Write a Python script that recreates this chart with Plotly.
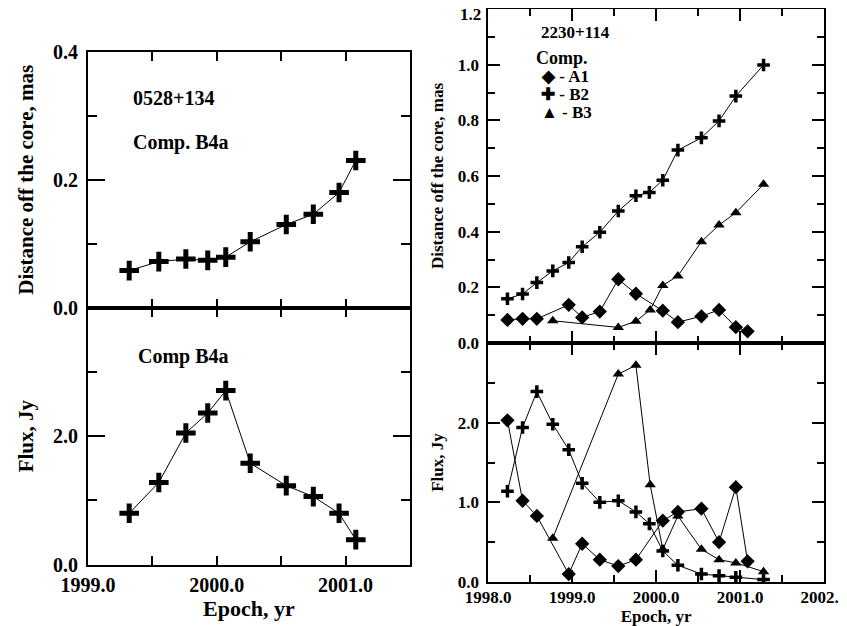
import plotly.graph_objects as go

# ---------------- data ----------------
# 0528+134, component B4a
epoch_0528 = [1999.32, 1999.55, 1999.76, 1999.93, 2000.07, 2000.26, 2000.54, 2000.75, 2000.95, 2001.08]
dist_0528 = [0.058, 0.072, 0.076, 0.074, 0.079, 0.103, 0.130, 0.146, 0.180, 0.230]
flux_0528 = [0.80, 1.28, 2.05, 2.36, 2.71, 1.58, 1.23, 1.06, 0.80, 0.39]

# 2230+114
epoch_A1 = [1998.23, 1998.41, 1998.58, 1998.96, 1999.12, 1999.33, 1999.55, 1999.76, 2000.08, 2000.26, 2000.54, 2000.75, 2000.95, 2001.09]
dist_A1 = [0.083, 0.087, 0.087, 0.137, 0.092, 0.113, 0.229, 0.177, 0.116, 0.075, 0.096, 0.119, 0.057, 0.042]
flux_A1 = [2.03, 1.02, 0.83, 0.10, 0.48, 0.28, 0.20, 0.28, 0.77, 0.88, 0.92, 0.50, 1.19, 0.26]

epoch_B2 = [1998.23, 1998.41, 1998.58, 1998.77, 1998.96, 1999.12, 1999.33, 1999.55, 1999.76, 1999.92, 2000.08, 2000.26, 2000.54, 2000.75, 2000.95, 2001.28]
dist_B2 = [0.159, 0.176, 0.217, 0.259, 0.289, 0.346, 0.398, 0.474, 0.529, 0.541, 0.585, 0.693, 0.737, 0.798, 0.887, 0.999]
flux_B2 = [1.14, 1.94, 2.39, 1.98, 1.66, 1.24, 1.00, 1.02, 0.88, 0.73, 0.39, 0.21, 0.10, 0.08, 0.06, 0.03]

epoch_B3 = [1998.77, 1999.55, 1999.76, 1999.93, 2000.08, 2000.26, 2000.54, 2000.75, 2000.95, 2001.28]
dist_B3 = [0.080, 0.056, 0.078, 0.119, 0.207, 0.241, 0.364, 0.424, 0.468, 0.570]
flux_B3 = [0.55, 2.61, 2.72, 1.22, 0.41, 0.83, 0.41, 0.28, 0.24, 0.13]

left_x_ticks = [1999.0, 2000.0, 2001.0]
left_dist_ticks = [0.0, 0.2, 0.4]
left_flux_ticks = [0.0, 2.0]
right_x_ticks = [1998.0, 1999.0, 2000.0, 2001.0, 2002.0]
right_dist_ticks = [0.0, 0.2, 0.4, 0.6, 0.8, 1.0, 1.2]
right_flux_ticks = [0.0, 1.0, 2.0]

# ---------------- layout geometry (screen pixels) ----------------
OFF = 8                       # page body margin of the html page
W, H = 847 - OFF, 626 - OFF   # figure size
SL, SR, ST, SB = 88, 824.3, 8.3, 582.3
ML, MR, MT, MB = SL - OFF, 847 - SR, ST - OFF, 626 - SB
PW, PH = W - ML - MR, H - MT - MB


def clamp(v):
    return min(1.0, max(0.0, v))


def px_x(p):
    return (p - OFF - ML) / PW


def px_y(p):
    return (H - MB - (p - OFF)) / PH


def xd(p0, p1):
    return [clamp(px_x(p0)), clamp(px_x(p1))]


def yd(top, bot):
    return [clamp(px_y(bot)), clamp(px_y(top))]


FONT = "Liberation Serif"
BLACK = "black"

fig = go.Figure()


def plus(size, lw):
    return dict(symbol="cross-thin", size=size, color=BLACK, line=dict(color=BLACK, width=lw))


line = dict(color=BLACK, width=1)

# left panels
fig.add_trace(go.Scatter(x=epoch_0528, y=dist_0528, mode="lines+markers", line=line,
                         marker=plus(14, 5), xaxis="x", yaxis="y", showlegend=False))
fig.add_trace(go.Scatter(x=epoch_0528, y=flux_0528, mode="lines+markers", line=line,
                         marker=plus(14, 5), xaxis="x2", yaxis="y2", showlegend=False))

# right panels
dia = dict(symbol="diamond", size=11, color=BLACK)
tri = dict(symbol="triangle-up", size=10, color=BLACK)
for (ya, A, B, C) in [("y3", dist_A1, dist_B2, dist_B3), ("y4", flux_A1, flux_B2, flux_B3)]:
    xa = "x3" if ya == "y3" else "x4"
    fig.add_trace(go.Scatter(x=epoch_A1, y=A, mode="lines+markers", line=line, marker=dia,
                             xaxis=xa, yaxis=ya, showlegend=False, name="A1"))
    fig.add_trace(go.Scatter(x=epoch_B2, y=B, mode="lines+markers", line=line, marker=plus(9, 3.5),
                             xaxis=xa, yaxis=ya, showlegend=False, name="B2"))
    fig.add_trace(go.Scatter(x=epoch_B3, y=C, mode="lines+markers", line=line, marker=tri,
                             xaxis=xa, yaxis=ya, showlegend=False, name="B3"))


def ax(domain, rng, tickvals, fmt, ticklen, minor_dtick, minor_len, fsize, showlabels=True,
       title=None, tsize=None, standoff=None, anchor=None, lw=2, lstand=4):
    d = dict(domain=domain, range=rng, tickmode="array", tickvals=tickvals,
             ticktext=[format(v, fmt) for v in tickvals],
             ticks="inside", ticklen=ticklen, tickwidth=lw, tickcolor=BLACK,
             showline=True, linecolor=BLACK, linewidth=lw, mirror="ticks",
             showgrid=False, zeroline=False, showticklabels=showlabels,
             tickfont=dict(family=FONT, size=fsize, color=BLACK, weight="bold"),
             minor=dict(dtick=minor_dtick, tick0=rng[0],
                        ticks="inside", ticklen=minor_len, tickwidth=lw, tickcolor=BLACK,
                        showgrid=False),
             ticklabelstandoff=lstand, automargin=False, anchor=anchor,
             ticklabeloverflow="allow")
    if title:
        d["title"] = dict(text=title, font=dict(family=FONT, size=tsize, color=BLACK, weight="bold"),
                          standoff=standoff)
    return d


LX = xd(88, 410)
RX = xd(488.3, 824.3)
RIGHT_TOP = 9.3  # keep the top frame line inside the page

fig.update_layout(
    width=W, height=H, margin=dict(l=ML, r=MR, t=MT, b=MB),
    paper_bgcolor="white", plot_bgcolor="white",
    font=dict(family=FONT, color=BLACK),
    xaxis=ax(LX, [1999.0, 2001.5], left_x_ticks, ".1f", 9, 0.5, 9, 20, showlabels=False, anchor="y"),
    yaxis=ax(yd(52, 308), [0, 0.4], left_dist_ticks, ".1f", 17, 0.1, 9, 20,
             title="Distance off the core, mas", tsize=21, standoff=14, anchor="x"),
    xaxis2=ax(LX, [1999.0, 2001.5], left_x_ticks, ".1f", 9, 0.5, 9, 20,
              title="Epoch, yr", tsize=22, standoff=2, anchor="y2", lstand=1),
    yaxis2=ax(yd(308, 565), [0, 4.0], left_flux_ticks, ".1f", 17, 1.0, 9, 20,
              title="Flux, Jy", tsize=21, standoff=14, anchor="x2"),
    xaxis3=ax(RX, [1998.0, 2002.0], right_x_ticks, ".1f", 12, 0.5, 7, 17, showlabels=False,
              anchor="y3", lw=1.6),
    yaxis3=ax(yd(RIGHT_TOP, 343.3), [0, 1.2], right_dist_ticks[:-1], ".1f", 12, 0.1, 7, 17,
              title="Distance off the core, mas", tsize=17, standoff=10, anchor="x3", lw=1.6),
    xaxis4=ax(RX, [1998.0, 2002.0], right_x_ticks, ".1f", 12, 0.5, 7, 17,
              title="Epoch, yr", tsize=17, standoff=2, anchor="y4", lw=1.6, lstand=-1),
    yaxis4=ax(yd(343.3, 582.3), [0, 3.0], right_flux_ticks, ".1f", 12, 0.5, 7, 17,
              title="Flux, Jy", tsize=17, standoff=10, anchor="x4", lw=1.6),
)


def note(text, x, y, size, xanchor="left"):
    fig.add_annotation(text=text, x=x, y=y, xref="paper", yref="paper",
                       xanchor=xanchor, yanchor="middle", showarrow=False,
                       font=dict(family=FONT, size=size, color=BLACK, weight="bold"))


# top tick label of the right distance axis (kept inside the page)
note(format(right_dist_ticks[-1], ".1f"), px_x(483), px_y(14.5), 17, xanchor="right")

note("0528+134", px_x(131), px_y(98), 20)
note("Comp. B4a", px_x(131), px_y(143), 20)
note("Comp B4a", px_x(136), px_y(357), 20)
note("2230+114", px_x(539), px_y(33), 17)
note("Comp.", px_x(534), px_y(58), 18)
note("◆ - A1", px_x(539), px_y(77), 17)
note("✚ - B2", px_x(539), px_y(95), 17)
note("▲ - B3", px_x(539), px_y(113), 17)

fig.write_html("out.html")
